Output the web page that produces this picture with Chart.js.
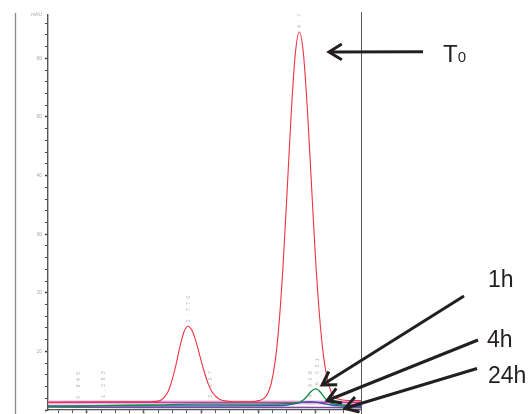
<!DOCTYPE html>
<html>
<head>
<meta charset="utf-8">
<script src="https://cdn.jsdelivr.net/npm/chart.js@4.4.0/dist/chart.umd.min.js"></script>
<style>
  html, body { margin: 0; padding: 0; background: #fff; overflow: hidden; }
  #wrap { width: 529px; height: 414px; overflow: hidden; }
</style>
</head>
<body>
<div id="wrap"><canvas id="chromChart" width="529" height="422"></canvas></div>
<script>
// retention time (min) and absorbance (mAU)
const timeT0 = [0.32, 1.23, 2.11, 2.28, 2.35, 2.42, 2.49, 2.56, 2.63, 2.70,
                2.77, 2.84, 2.91, 2.98, 3.05, 3.12, 3.19, 3.26, 3.33, 3.47,
                3.72, 3.96, 4.09, 4.16, 4.23, 4.30, 4.37, 4.44, 4.51, 4.58,
                4.65, 4.72, 4.79, 4.86, 4.93, 5.00, 5.07, 5.14, 5.21, 5.28,
                5.35, 5.49, 5.64, 5.80]
const valT0 = [1.3, 1.4, 1.4, 1.6, 2.1, 3.1, 5.0, 7.7, 10.8, 13.3,
               14.3, 13.6, 11.7, 9.2, 6.7, 4.6, 3.1, 2.3, 1.8, 1.5,
               1.4, 1.5, 1.9, 2.7, 4.6, 8.5, 15.3, 25.4, 38.0, 50.9,
               60.8, 64.5, 61.0, 51.5, 39.0, 26.5, 16.5, 9.5, 5.3, 3.0,
               2.1, 1.7, 1.6, 1.6]

const time1h = [0.32, 0.52, 1.23, 2.11, 2.98, 3.96, 4.58, 4.72, 4.79, 4.86, 4.93, 5.00, 5.04, 5.11, 5.18, 5.25, 5.35, 5.56, 5.80]
const val1h = [0.6, 0.6, 0.75, 0.85, 1.0, 1.0, 1.1, 1.3, 1.7, 2.4, 3.2, 3.6, 3.5, 2.8, 1.9, 1.3, 1.0, 0.8, 0.8]

const time4h = [0.32, 2.98, 4.30, 4.51, 4.65, 4.79, 4.90, 5.00, 5.14, 5.28, 5.42, 5.80]
const val4h = [0.7, 0.7, 0.75, 0.85, 1.1, 1.35, 1.4, 1.35, 1.1, 0.85, 0.7, 0.6]

const time24h = [0.32, 2.0, 4.0, 5.80]
const val24h = [0.5, 0.45, 0.45, 0.4]

const timeBlank = [0.32, 5.80]
const valBlank = [1.3, 1.3]

// retention times printed over the peaks, and the trace height under each
const peakTimes = [0.845, 1.283, 2.770, 3.157, 4.716, 4.908, 5.031]
const peakHeights = [1.3, 1.4, 14.3, 1.4, 64.5, 1.4, 3.6]

const xMin = 0.32, xMax = 5.80
const yMax = 67.4

const toPoints = (xs, ys) => xs.map((x, i) => ({ x: x, y: ys[i] }))

const trace = (label, xs, ys, color, width, order) => ({
  label: label,
  data: toPoints(xs, ys),
  borderColor: color,
  borderWidth: width,
  pointRadius: 0,
  fill: false,
  cubicInterpolationMode: 'monotone',
  order: order
})

// arrows + sample labels on the right
const callouts = [
  { text: 'T', sub: '0', tx: 443, ty: 62, tail: [423, 51.7], tip: [5.24, 61.1] },
  { text: '1h', tx: 488, ty: 287, tail: [464, 296], tip: [5.12, 4.27] },
  { text: '4h', tx: 487, ty: 347, tail: [478, 340], tip: [5.21, 1.62] },
  { text: '24h', tx: 488, ty: 383, tail: [477, 368.5], tip: [5.52, 0.29] }
]

const decor = {
  id: 'decor',
  afterDraw(chart) {
    const { ctx, chartArea, scales: { x, y } } = chart
    const line = (x1, y1, x2, y2) => { ctx.beginPath(); ctx.moveTo(x1, y1); ctx.lineTo(x2, y2); ctx.stroke() }
    ctx.save()

    // frame lines
    ctx.strokeStyle = '#8a8a8a'
    ctx.lineWidth = 1.3
    line(15.5, 13, 15.5, 414)
    ctx.strokeStyle = '#5a5a5a'
    ctx.lineWidth = 1
    line(Math.round(chartArea.right) + 0.5, 12, Math.round(chartArea.right) + 0.5, 414)

    // tiny vertical retention time labels
    ctx.save()
    ctx.beginPath()
    ctx.rect(0, 12, 529, 402)
    ctx.clip()
    ctx.fillStyle = '#b0b0b0'
    ctx.font = '5px "Liberation Sans"'
    ctx.letterSpacing = '3.5px'
    peakTimes.forEach((t, i) => {
      const px = x.getPixelForValue(t)
      const py = y.getPixelForValue(peakHeights[i]) - 4
      ctx.save()
      ctx.translate(px + 2, py)
      ctx.rotate(-Math.PI / 2)
      ctx.textAlign = 'left'
      ctx.fillText(t.toFixed(3), 0, 0)
      ctx.restore()
    })
    ctx.restore()

    // arrows
    ctx.strokeStyle = '#231f20'
    ctx.fillStyle = '#231f20'
    ctx.lineWidth = 3
    ctx.lineJoin = 'miter'
    callouts.forEach(c => {
      const tipX = x.getPixelForValue(c.tip[0])
      const tipY = y.getPixelForValue(c.tip[1])
      const [tailX, tailY] = c.tail
      line(tailX, tailY, tipX, tipY)
      const ang = Math.atan2(tailY - tipY, tailX - tipX)
      const len = 15, spread = 0.55
      ctx.beginPath()
      ctx.moveTo(tipX + len * Math.cos(ang + spread), tipY + len * Math.sin(ang + spread))
      ctx.lineTo(tipX, tipY)
      ctx.lineTo(tipX + len * Math.cos(ang - spread), tipY + len * Math.sin(ang - spread))
      ctx.stroke()

      ctx.textAlign = 'left'
      ctx.textBaseline = 'alphabetic'
      if (c.sub) {
        ctx.font = '24px "Liberation Sans", Arial, sans-serif'
        ctx.fillText(c.text, c.tx, c.ty)
        const w = ctx.measureText(c.text).width
        ctx.font = '15px "Liberation Sans", Arial, sans-serif'
        ctx.fillText(c.sub, c.tx + w, c.ty)
      } else {
        ctx.font = '23px "Liberation Sans", Arial, sans-serif'
        ctx.fillText(c.text, c.tx, c.ty)
      }
    })
    ctx.restore()
  }
}

new Chart(document.getElementById('chromChart'), {
  type: 'line',
  data: {
    datasets: [
      trace('T0', timeT0, valT0, '#ee3440', 1.1, 0),
      trace('1h', time1h, val1h, '#128c45', 1.4, 1),
      trace('4h', time4h, val4h, '#2f55b8', 1.4, 2),
      trace('blank', timeBlank, valBlank, '#c23ea2', 1.1, 3),
      trace('blank halo', timeBlank, valBlank, '#ecb5df', 4, 4),
      trace('24h', time24h, val24h, '#7c4a98', 1.6, 5)
    ]
  },
  options: {
    responsive: false,
    animation: false,
    events: [],
    layout: { padding: { left: 0, right: 168, top: 15, bottom: 0 } },
    plugins: { legend: { display: false }, tooltip: { enabled: false } },
    scales: {
      x: {
        type: 'linear',
        min: xMin,
        max: xMax,
        border: { color: '#555', width: 1.2 },
        grid: {
          drawOnChartArea: false,
          tickLength: 3,
          color: '#555',
          tickWidth: ctx => (Number.isInteger(ctx.tick && ctx.tick.value) ? 1.6 : 1)
        },
        ticks: {
          stepSize: 0.25,
          autoSkip: false,
          includeBounds: false,
          maxRotation: 0,
          padding: 0,
          color: '#a8a8a8',
          font: { size: 5 },
          callback: v => (Number.isInteger(v) ? v : '')
        },
        afterFit: s => { s.height = 12 }
      },
      y: {
        min: 0,
        max: yMax,
        border: { color: '#555', width: 1.4 },
        grid: {
          drawOnChartArea: false,
          tickLength: 3,
          color: ctx => (ctx.tick && ctx.tick.value === yMax ? 'rgba(0,0,0,0)' : '#444'),
          tickWidth: ctx => (ctx.tick && ctx.tick.value % 10 === 0 ? 1.6 : 1)
        },
        ticks: {
          stepSize: 2,
          autoSkip: false,
          padding: 3,
          color: '#a8a8a8',
          font: { size: 5 },
          callback: v => (v === yMax ? 'mAU' : (v % 10 === 0 && v > 0 ? v : ''))
        },
        afterFit: s => { s.width = 48 }
      }
    }
  },
  plugins: [decor]
})
</script>
</body>
</html>
